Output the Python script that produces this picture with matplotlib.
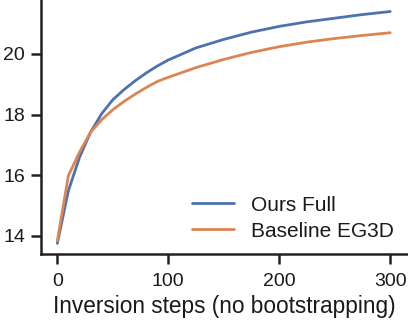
import matplotlib
matplotlib.use("Agg")
import matplotlib.pyplot as plt
import seaborn as sns

# Values.
steps = [0, 10, 20, 30, 40, 50, 60, 70, 80, 90, 100,
         125, 150, 175, 200, 225, 250, 275, 300]
ours_full = [13.75, 15.49, 16.59, 17.42, 18.03, 18.49, 18.82, 19.11, 19.37,
             19.60, 19.80, 20.20, 20.48, 20.72, 20.91, 21.06, 21.18, 21.30,
             21.40]
baseline_eg3d = [13.83, 15.99, 16.76, 17.42, 17.83, 18.16, 18.43, 18.67,
                 18.89, 19.09, 19.23, 19.55, 19.82, 20.05, 20.24, 20.39,
                 20.51, 20.61, 20.70]

sns.set_theme(style="ticks")
plt.rcParams["font.family"] = ["Liberation Sans", "DejaVu Sans"]
colors = sns.color_palette("deep")

fig = plt.figure(figsize=(4.08, 3.2), dpi=100)
ax = fig.add_axes([41 / 408, (320 - 254) / 320, (408 - 41) / 408, 254 / 320])

ax.plot(steps, ours_full, color=colors[0], linewidth=2.0, label="Ours Full")
ax.plot(steps, baseline_eg3d, color=colors[1], linewidth=2.0,
        label="Baseline EG3D")

ax.set_xlim(-14.7, 316)
ax.set_ylim(13.4, 21.78)
ax.set_xticks([0, 100, 200, 300])
ax.set_yticks([14, 16, 18, 20])
ax.tick_params(labelsize=14, width=1.8, length=7, color="#222222",
               labelcolor="#1a1a1a")
ax.tick_params(axis="x", pad=7)
ax.tick_params(axis="y", pad=4.5)
for s in ["left", "bottom"]:
    ax.spines[s].set_linewidth(1.8)
    ax.spines[s].set_color("#222222")
sns.despine(ax=ax)

ax.set_xlabel("Inversion steps (no bootstrapping)", fontsize=16.3,
              color="#1a1a1a", labelpad=3)
leg = ax.legend(loc="lower right", frameon=False, fontsize=15,
                labelspacing=0.33, borderaxespad=0,
                bbox_to_anchor=(0.983, 0.02))
for t in leg.get_texts():
    t.set_color("#1a1a1a")

fig.savefig("out.png", dpi=100)
